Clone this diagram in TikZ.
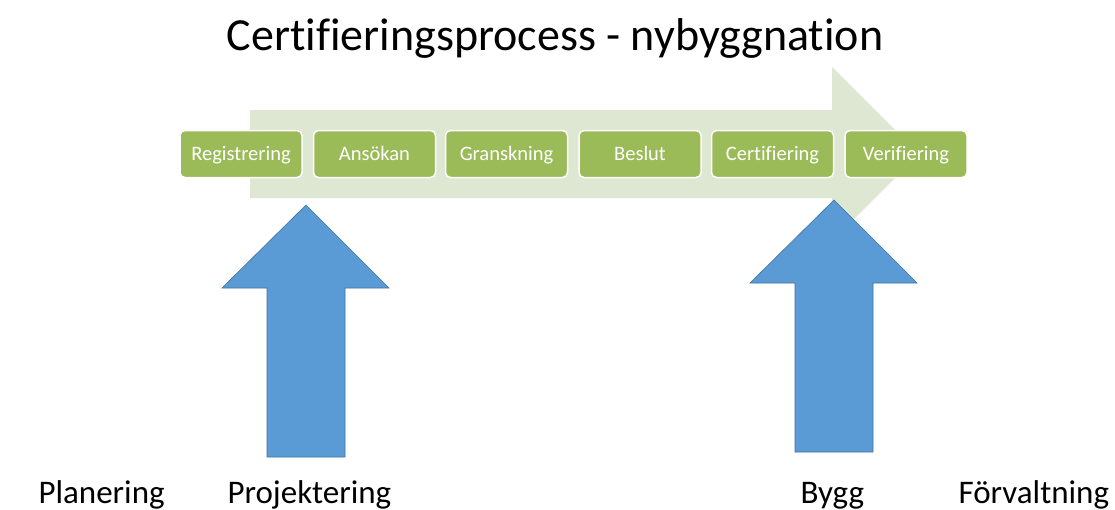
\documentclass[tikz,border=0pt]{standalone}
\usepackage{fontspec}
\setmainfont{Carlito}[Ligatures=NoCommon]
\definecolor{stepgreen}{HTML}{9BBB59}
\definecolor{flowgreen}{HTML}{DEE7D1}
\definecolor{phaseblue}{HTML}{5B9BD5}
\definecolor{phaseedge}{HTML}{41719C}
\begin{document}
\begin{tikzpicture}[x=1pt,y=-1pt,
  stepbox/.style={draw=white,line width=1.5pt,fill=stepgreen,rounded corners=5pt,
    minimum width=122pt,minimum height=47pt,inner sep=0pt,text=white,
    text height=14pt,text depth=2pt,
    font=\fontsize{20.5}{22}\selectfont},
  phase/.style={anchor=base west,font=\fontsize{33}{36}\selectfont},
  uparrow/.style={fill=phaseblue,draw=phaseedge,line width=0.6pt,line join=miter}]
\useasboundingbox (0,0) rectangle (1115,509);
\fill[white] (0,0) rectangle (1115,509);

% title
\node[anchor=base,font=\fontsize{46}{50}\selectfont] (title) at (555,50) {Certifieringsprocess - nybyggnation};

% broad process arrow behind the steps
\fill[flowgreen] (250,110) -- (832,110) -- (832,67) -- (919,154) -- (832,241) -- (832,198) -- (250,198) -- cycle;

% process steps
\node[stepbox] (s1) at (241,154) {Registrering};
\node[stepbox] (s2) at (374.5,154) {Ansökan};
\node[stepbox] (s3) at (506.5,154) {Granskning};
\node[stepbox] (s4) at (640,154) {Beslut};
\node[stepbox] (s5) at (772.5,154) {Certifiering};
\node[stepbox] (s6) at (906,154) {Verifiering};

% phase arrows
\draw[uparrow] (306,205) -- (389,288) -- (345,288) -- (345,457) -- (267,457) -- (267,288) -- (222,288) -- cycle;
\draw[uparrow] (834,200) -- (917,283) -- (873,283) -- (873,452) -- (795,452) -- (795,283) -- (750,283) -- cycle;

% phases
\node[phase] (p1) at (35,503) {Planering};
\node[phase] (p2) at (224,503) {Projektering};
\node[phase] (p3) at (797,503) {Bygg};
\node[phase] (p4) at (955,503) {Förvaltning};
\end{tikzpicture}
\end{document}
